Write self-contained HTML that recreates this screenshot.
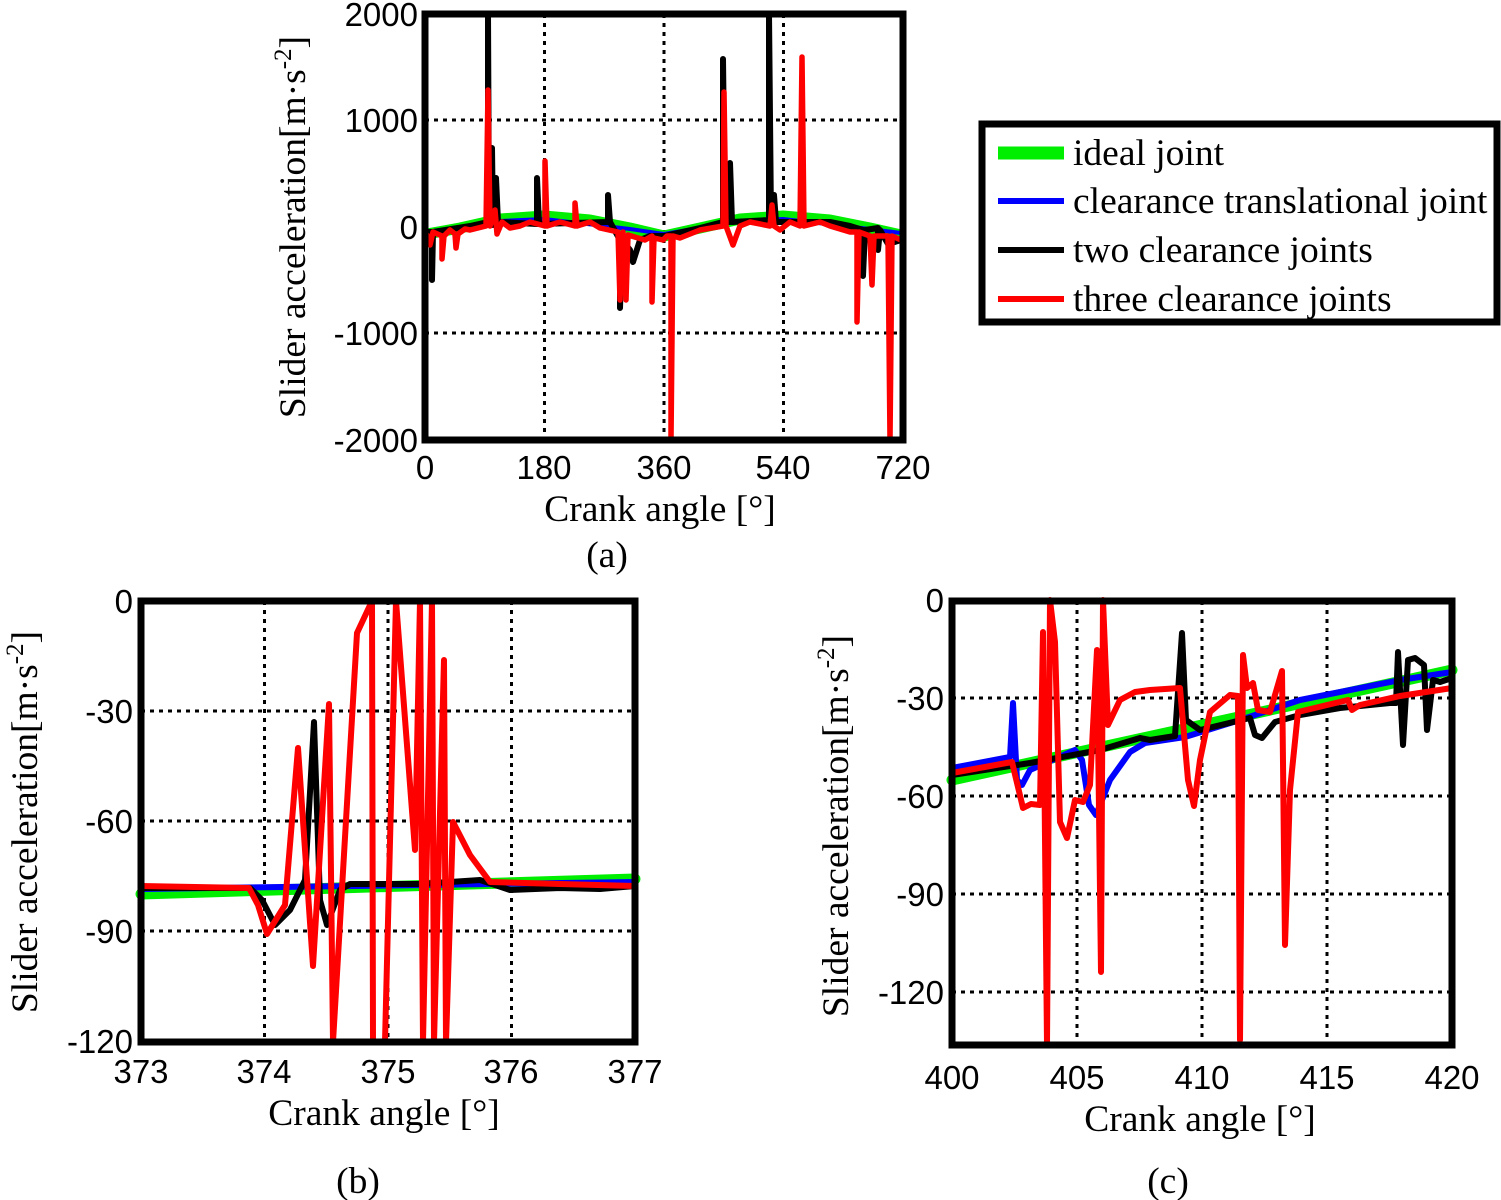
<!DOCTYPE html>
<html><head><meta charset="utf-8"><style>
html,body{margin:0;padding:0;background:#fff}
svg{display:block}
.t{font-family:"Liberation Sans",sans-serif;font-size:33px;fill:#000}
.s{font-family:"Liberation Serif",serif;font-size:37.5px;fill:#000}
.g{stroke:#000;stroke-width:3;stroke-dasharray:4,5;fill:none}
.b{fill:none;stroke:#000;stroke-width:7}
.ln{fill:none;stroke-linejoin:round;stroke-linecap:round}
</style></head><body>
<svg width="1501" height="1200" viewBox="0 0 1501 1200" xmlns="http://www.w3.org/2000/svg">
<!-- ===== (a) ===== -->
<g>
<path class="g" d="M544.5 14V440M664 14V440M783.5 14V440M425 120H903M425 333H903"/>
<path class="ln" stroke="#00ee00" stroke-width="11" d="M427 234 L460 228 L500 219 L544 216 L590 220 L630 228 L664 236 L700 228 L740 219 L783 216 L830 220 L870 228 L901 235"/>
<path class="ln" stroke="#0000ff" stroke-width="4" d="M427 232 L500 221 L544 219 L630 229 L664 234 L740 221 L783 219 L870 229 L901 233"/>
<path class="ln" stroke="#000" stroke-width="6" d="M427 232 L432 232 L432 280 L433 232 L470 226 L488 222 L488 14 L489 222 L492 222 L492 148 L493 225 L496 178 L498 222 L537 224 L537 178 L539 224 L608 222 L608 195 L610 222 L620 240 L620 308 L622 240 L630 250 L633 262 L640 240 L650 236 L664 236 L700 228 L723 222 L723 59 L725 222 L730 222 L730 163 L732 222 L769 220 L769 14 L771 220 L774 195 L776 222 L830 222 L850 226 L863 230 L863 276 L865 230 L878 228 L878 250 L880 230 L888 244 L901 240"/>
<path class="ln" stroke="#ff0000" stroke-width="5.5" d="M427 235 L430 245 L433 232 L442 236 L442 259 L444 236 L450 230 L455 234 L456 248 L458 234 L465 229 L470 230 L486 226 L488 90 L490 226 L495 210 L497 234 L502 222 L510 228 L520 226 L530 222 L545 226 L545 161 L547 226 L560 222 L575 226 L575 203 L577 226 L590 222 L600 228 L618 232 L620 300 L623 232 L626 300 L628 235 L645 240 L652 236 L652 302 L654 238 L663 240 L667 236 L671 236 L671 440 L673 236 L680 238 L700 230 L723 226 L724 92 L726 226 L733 245 L740 226 L750 222 L770 226 L772 205 L774 226 L780 230 L790 222 L800 226 L802 57 L804 226 L820 222 L830 226 L850 232 L857 232 L857 322 L859 232 L870 236 L872 285 L874 236 L888 236 L890 440 L892 236 L901 240"/>
<rect class="b" x="425" y="14" width="478" height="426"/>
<g class="t" text-anchor="end">
<text x="418" y="26">2000</text><text x="418" y="132">1000</text><text x="418" y="239">0</text><text x="418" y="345">-1000</text><text x="418" y="452">-2000</text>
</g>
<g class="t" text-anchor="middle">
<text x="425" y="479">0</text><text x="544" y="479">180</text><text x="664" y="479">360</text><text x="783" y="479">540</text><text x="903" y="479">720</text>
</g>
<text class="s" x="660" y="521" text-anchor="middle">Crank angle [°]</text>
<text class="s" x="607" y="567" text-anchor="middle">(a)</text>
<text class="s" transform="translate(305,227) rotate(-90)" text-anchor="middle">Slider acceleration[m·s<tspan dy="-14" font-size="25">-2</tspan><tspan dy="14">]</tspan></text>
</g>
<!-- legend -->
<g>
<rect x="982" y="124" width="515" height="198" fill="#fff" stroke="#000" stroke-width="7"/>
<path stroke="#00ee00" stroke-width="13" d="M998 153H1064"/>
<path stroke="#0000ff" stroke-width="6" d="M998 201H1064"/>
<path stroke="#000" stroke-width="6" d="M998 250H1064"/>
<path stroke="#ff0000" stroke-width="6" d="M998 299H1064"/>
<g class="s" font-size="35.5">
<text x="1073" y="165">ideal joint</text>
<text x="1073" y="213">clearance translational joint</text>
<text x="1073" y="262">two clearance joints</text>
<text x="1073" y="311">three clearance joints</text>
</g>
</g>
<!-- ===== (b) ===== -->
<g>
<path class="g" d="M264.5 601V1042M388 601V1042M511.5 601V1042M141 711H635M141 821H635M141 931H635"/>
<path class="ln" stroke="#00ee00" stroke-width="11" d="M141 894L635 879"/>
<path class="ln" stroke="#0000ff" stroke-width="6" d="M141 889L635 882"/>
<path class="ln" stroke="#000" stroke-width="6" d="M141 888L250 888L262 900L275 925L290 910L305 880L314 722L320 900L327 925L340 890L350 884L420 884L480 880L510 890L560 888L600 889L635 886"/>
<path class="ln" stroke="#ff0000" stroke-width="6" d="M141 886L249 888L258 905L267 934L285 905L298 748L313 966L329 704L333 1042L357 633L372 601L373 1042L385 1042L396 601L415 850L420 601L423 1042L432 601L434 1042L444 660L446 1042L453 822L470 855L490 882L560 884L635 886"/>
<rect class="b" x="141" y="601" width="494" height="441"/>
<g class="t" text-anchor="end">
<text x="133" y="613">0</text><text x="133" y="723">-30</text><text x="133" y="833">-60</text><text x="133" y="943">-90</text><text x="133" y="1053">-120</text>
</g>
<g class="t" text-anchor="middle">
<text x="141" y="1083">373</text><text x="264" y="1083">374</text><text x="388" y="1083">375</text><text x="511" y="1083">376</text><text x="635" y="1083">377</text>
</g>
<text class="s" x="384" y="1125" text-anchor="middle">Crank angle [°]</text>
<text class="s" x="358" y="1193" text-anchor="middle">(b)</text>
<text class="s" transform="translate(37,822) rotate(-90)" text-anchor="middle">Slider acceleration[m·s<tspan dy="-14" font-size="25">-2</tspan><tspan dy="14">]</tspan></text>
</g>
<!-- ===== (c) ===== -->
<g>
<path class="g" d="M1077 601V1045M1202 601V1045M1327 601V1045M952 698H1452M952 796H1452M952 894H1452M952 992H1452"/>
<path class="ln" stroke="#00ee00" stroke-width="11" d="M952 780L1452 670"/>
<path class="ln" stroke="#0000ff" stroke-width="6" d="M952 768L1010 757L1013 703L1017 780L1022 785L1030 770L1075 750L1082 760L1089 805L1096 815L1110 780L1130 752L1145 743L1185 737L1240 720L1300 700L1400 680L1452 672"/>
<path class="ln" stroke="#000" stroke-width="6" d="M952 775L1030 763L1100 750L1140 738L1150 740L1175 736L1182 633L1186 720L1200 730L1250 718L1255 735L1262 738L1275 722L1300 715L1340 708L1390 703L1396 703L1398 652L1403 745L1408 660L1415 658L1424 665L1427 730L1433 680L1440 682L1452 678"/>
<path class="ln" stroke="#ff0000" stroke-width="6" d="M952 773L1012 762L1023 808L1031 804L1040 805L1043 632L1047 1045L1050 600L1055 642L1060 822L1067 838L1075 800L1083 802L1090 785L1097 650L1101 972L1103 600L1108 725L1120 700L1135 692L1150 690L1180 688L1188 780L1194 806L1200 760L1210 712L1230 695L1238 696L1240 1040L1243 655L1247 688L1253 683L1258 710L1270 712L1282 671L1285 945L1290 790L1298 712L1348 700L1352 710L1360 705L1400 696L1452 688"/>
<rect class="b" x="952" y="601" width="500" height="444"/>
<g class="t" text-anchor="end">
<text x="944" y="612">0</text><text x="944" y="710">-30</text><text x="944" y="808">-60</text><text x="944" y="906">-90</text><text x="944" y="1004">-120</text>
</g>
<g class="t" text-anchor="middle">
<text x="952" y="1089">400</text><text x="1077" y="1089">405</text><text x="1202" y="1089">410</text><text x="1327" y="1089">415</text><text x="1452" y="1089">420</text>
</g>
<text class="s" x="1200" y="1131" text-anchor="middle">Crank angle [°]</text>
<text class="s" x="1168" y="1193" text-anchor="middle">(c)</text>
<text class="s" transform="translate(848,826) rotate(-90)" text-anchor="middle">Slider acceleration[m·s<tspan dy="-14" font-size="25">-2</tspan><tspan dy="14">]</tspan></text>
</g>
</svg>
</body></html>
